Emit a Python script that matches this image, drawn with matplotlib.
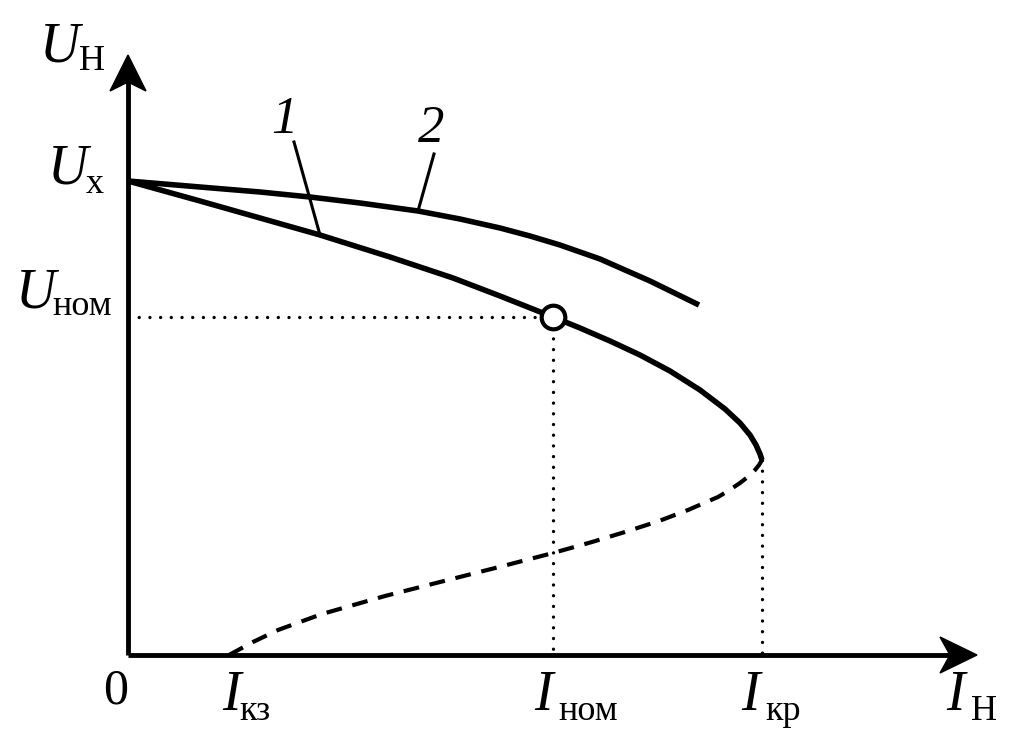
import matplotlib
matplotlib.use('Agg')
import matplotlib.pyplot as plt
from matplotlib.patches import Polygon

plt.rcParams['font.family'] = ['Liberation Serif', 'DejaVu Serif']

# characteristic points (drawing units, origin at 0)
U_x = 474
U_nom = 338
I_nom = 425
I_kr = 634
I_kz = 101

# curve 1 - external characteristic (working branch)
curve1_I = [0, 72, 132, 192, 262, 325, 372, 425, 452, 482, 512, 542, 572,
            597, 612, 622, 628, 632, 634]
curve1_U = [474, 454, 437, 420, 398, 377, 359, 338, 327, 314, 300, 284, 265,
            246, 232, 220, 210, 201, 195]

# curve 2
curve2_I = [0, 72, 132, 182, 232, 290, 332, 372, 402, 432, 472, 522, 571]
curve2_U = [474, 468, 463, 458, 452, 444, 436, 427, 419, 410, 396, 374, 350]

# unstable branch (dashed)
branch_I = [101, 125, 150, 194, 257, 316, 375, 425, 464, 497, 531, 560, 590,
            600, 612, 621, 627, 631, 634]
branch_U = [0, 13, 25, 41, 59, 74, 89, 102, 113, 123, 134, 145, 158,
            164, 172, 179, 185, 190, 195]

fig = plt.figure(figsize=(10.1, 7.39), dpi=100)
ax = fig.add_axes([0, 0, 1, 1])
ax.set_xlim(-128, 882)
ax.set_ylim(-84, 655)
ax.axis('off')

# axes with arrows
ax.plot([0, 0], [0, 575], color='black', lw=3.5, solid_capstyle='butt')
ax.plot([0, 822], [0, 0], color='black', lw=3.5, solid_capstyle='butt')
ax.add_patch(Polygon([(0, 600), (-18, 564), (0, 573), (18, 564)], closed=True,
                     facecolor='black', edgecolor='black', lw=1))
ax.add_patch(Polygon([(849, 0), (812, -18), (822, 0), (812, 18)], closed=True,
                     facecolor='black', edgecolor='black', lw=1))

# dotted guide lines
dot = dict(color='black', lw=2.4, linestyle=(0, (0.01, 3.2)), dash_capstyle='round')
ax.plot([0, I_nom], [U_nom, U_nom], **dot)
ax.plot([I_nom, I_nom], [U_nom, 0], **dot)
ax.plot([I_kr, I_kr], [195, 0], **dot)

# curves
ax.plot(curve2_I, curve2_U, color='black', lw=4, solid_capstyle='butt', solid_joinstyle='round')
ax.plot(curve1_I, curve1_U, color='black', lw=4, solid_capstyle='butt', solid_joinstyle='round')
ax.plot(branch_I, branch_U, color='black', lw=3, linestyle=(0, (3.8, 2.6)), dash_capstyle='butt')

# nominal point
ax.plot([I_nom], [U_nom], marker='o', markersize=17, markerfacecolor='white',
        markeredgecolor='black', markeredgewidth=3, zorder=5)

# leader lines for curve numbers
ax.plot([166, 192], [513, 420], color='black', lw=2.2)
ax.plot([306, 290], [501, 444], color='black', lw=2.2)
ax.text(156, 522, '1', fontsize=38, style='italic', ha='center', va='baseline')
ax.text(303, 513, '2', fontsize=38, style='italic', ha='center', va='baseline')

MAIN = 40
SUB = 26

def label(x, y, main, sub, dx, dy):
    ax.text(x, y, main, fontsize=MAIN, style='italic', ha='left', va='baseline')
    ax.text(x + dx, y + dy, sub, fontsize=SUB, ha='left', va='baseline')

# y-axis labels
label(-88, 593, 'U', 'Н', 39, -8)
label(-80, 472, 'U', 'х', 38, -10)
label(-112, 348, 'U', 'ном', 36, -8)

# x-axis labels
ax.text(-12, -48, '0', fontsize=36, ha='center', va='baseline')
label(94, -55, 'I', 'кз', 17, -10)
label(406, -55, 'I', 'ном', 24, -10)
label(613, -55, 'I', 'кр', 24, -10)
label(818, -55, 'I', 'Н', 25, -10)

fig.savefig('out.png', dpi=100)
